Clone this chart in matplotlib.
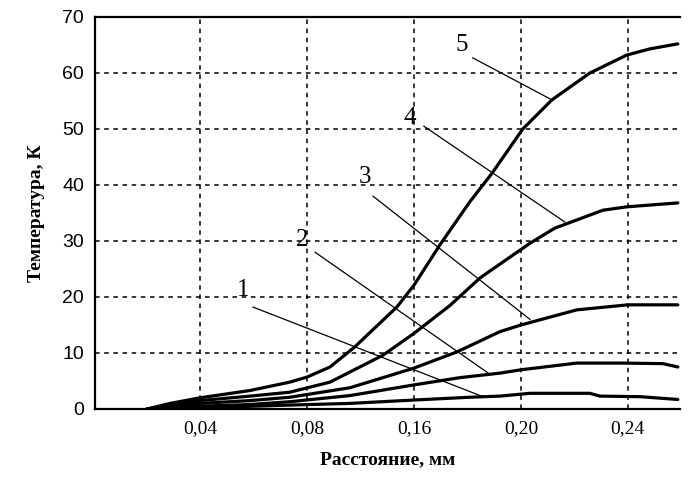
import matplotlib
matplotlib.use("Agg")
import matplotlib.pyplot as plt

# x positions (axis units), tick labels as printed in the original
tick_pos = [0.04, 0.08, 0.12, 0.16, 0.20]
tick_labels = ["0,04", "0,08", "0,16", "0,20", "0,24"]
y_ticks = [0, 10, 20, 30, 40, 50, 60, 70]

x5 = [0.0202, 0.0288, 0.040, 0.0587, 0.0736, 0.080, 0.0886, 0.0979, 0.1054, 0.1136,
      0.120, 0.1297, 0.1409, 0.1492, 0.1607, 0.1716, 0.1858, 0.1996, 0.2082, 0.2187]
y5 = [0.0, 1.0, 2.0, 3.3, 4.8, 5.7, 7.5, 11.1, 14.5, 18.2,
      22.1, 29.3, 37.0, 42.1, 50.0, 55.2, 60.0, 63.2, 64.3, 65.2]

x4 = [0.0202, 0.0307, 0.040, 0.0587, 0.0736, 0.0886, 0.1084, 0.120, 0.1335, 0.1447,
      0.1634, 0.1727, 0.1907, 0.1996, 0.2187]
y4 = [0.0, 0.8, 1.5, 2.3, 3.0, 4.8, 9.6, 13.5, 18.5, 23.4,
      29.6, 32.3, 35.5, 36.1, 36.8]

x3 = [0.0202, 0.040, 0.0587, 0.0736, 0.0961, 0.120, 0.1361, 0.1521, 0.160, 0.1809,
      0.200, 0.2187]
y3 = [0.0, 1.0, 1.5, 2.1, 3.8, 7.3, 10.2, 13.8, 15.0, 17.7,
      18.6, 18.6]

x2 = [0.0202, 0.040, 0.0587, 0.0736, 0.0961, 0.120, 0.1372, 0.1521, 0.160, 0.1809,
      0.197, 0.2131, 0.2187]
y2 = [0.0, 0.5, 0.8, 1.3, 2.4, 4.3, 5.6, 6.4, 7.0, 8.2,
      8.2, 8.1, 7.5]

x1 = [0.0202, 0.040, 0.0736, 0.0961, 0.120, 0.1409, 0.1521, 0.1634, 0.1858, 0.1895,
      0.2045, 0.2187]
y1 = [0.0, 0.2, 0.7, 1.0, 1.6, 2.1, 2.3, 2.8, 2.8, 2.3,
      2.2, 1.7]

curves = [(x1, y1), (x2, y2), (x3, y3), (x4, y4), (x5, y5)]
labels = ["1", "2", "3", "4", "5"]
# label text position, leader start, leader end on curve
label_text = [(0.0561, 21.3), (0.0781, 30.2), (0.1017, 41.4), (0.1185, 52.0), (0.138, 65.0)]
leader_start = [(0.0598, 18.2), (0.083, 28.0), (0.1047, 38.0), (0.1237, 50.5), (0.142, 62.7)]
leader_end = [(0.1458, 2.2), (0.1484, 6.2), (0.1634, 16.0), (0.1764, 33.4), (0.1716, 55.2)]

fig = plt.figure(figsize=(6.99, 4.88), dpi=100)
ax = fig.add_axes([0.1359, 0.1619, 0.8369, 0.8033])

for (xs, ys) in curves:
    ax.plot(xs, ys, color="black", lw=2.3, solid_capstyle="round",
            solid_joinstyle="round", zorder=3)

for lab, tp, ls, le in zip(labels, label_text, leader_start, leader_end):
    ax.text(tp[0], tp[1], lab, family="Liberation Serif", fontsize=18,
            ha="center", va="center", zorder=4)
    ax.plot([ls[0], le[0]], [ls[1], le[1]], color="black", lw=0.9, zorder=4)

ax.set_xlim(0.0007, 0.2195)
ax.set_ylim(0, 70)
ax.set_xticks(tick_pos)
ax.set_xticklabels(tick_labels, family="Liberation Serif", fontsize=14)
ax.set_yticks(y_ticks)
ax.set_yticklabels([str(v) for v in y_ticks], family="Liberation Sans", fontsize=14)
ax.tick_params(length=0, pad=8)
ax.grid(True, color="black", lw=1.1, linestyle=(0, (3, 3)))
ax.set_axisbelow(True)
ax.spines["right"].set_visible(False)
for s in ["left", "bottom", "top"]:
    ax.spines[s].set_linewidth(1.6)

ax.set_xlabel("Расстояние, мм", family="Liberation Serif", fontweight="bold", fontsize=14, labelpad=10)
ax.set_ylabel("Температура, К", family="Liberation Serif", fontweight="bold", fontsize=14, labelpad=12)

fig.savefig("out.png", dpi=100)
